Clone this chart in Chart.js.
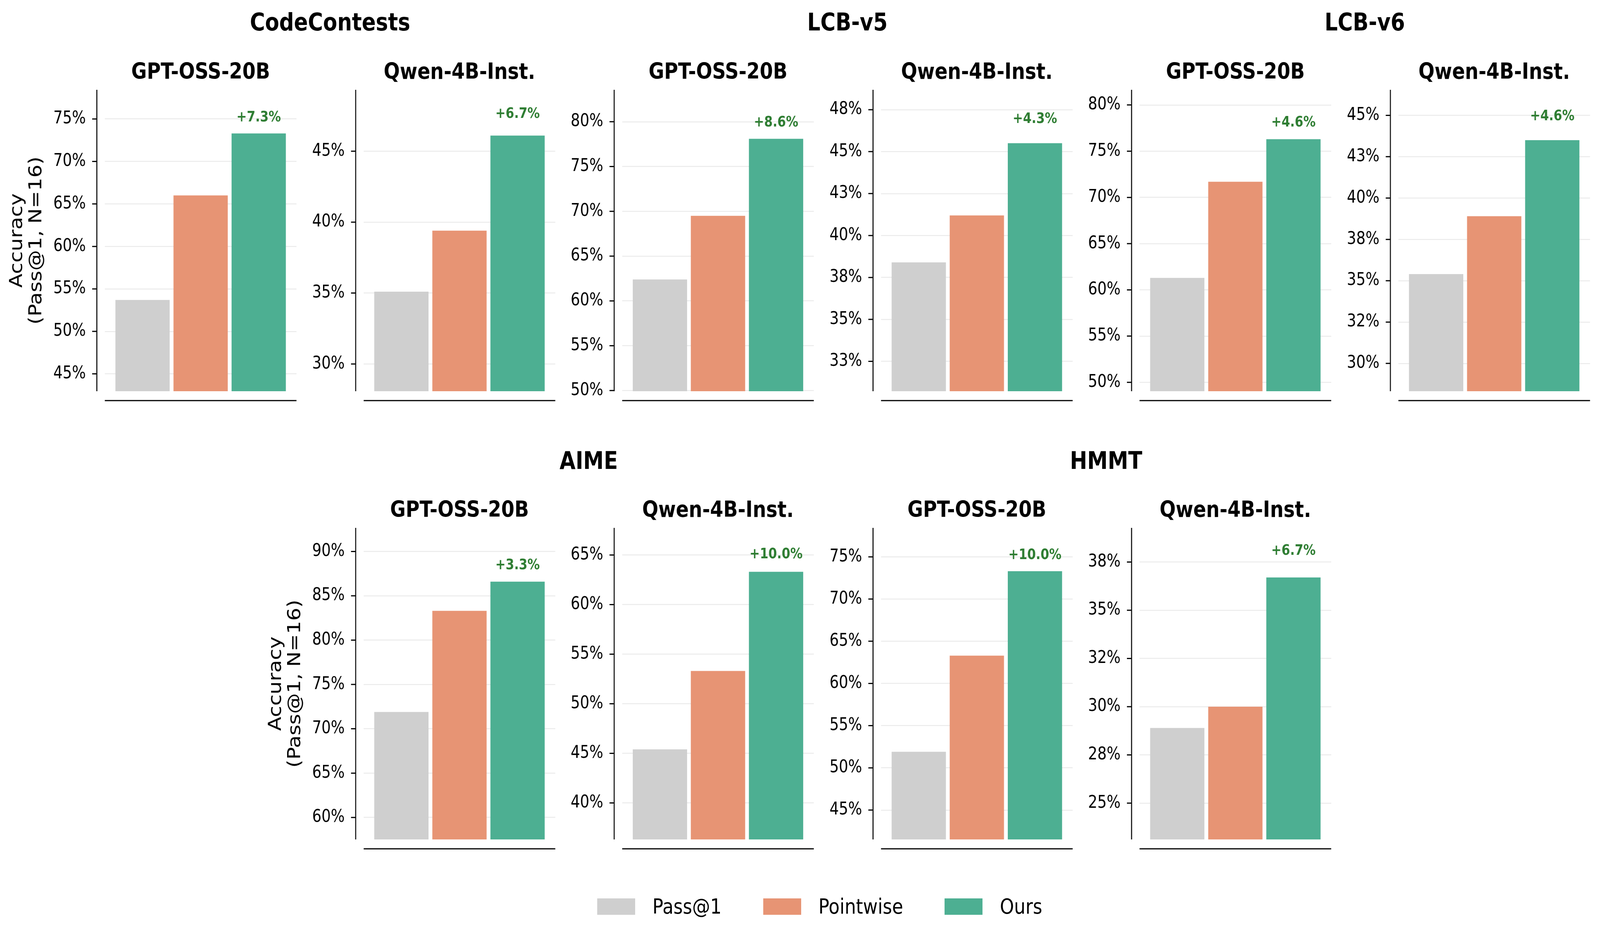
<!DOCTYPE html>
<html>
<head>
<meta charset="utf-8">
<script src="https://cdn.jsdelivr.net/npm/chart.js@4.4.1/dist/chart.umd.min.js"></script>
<style>
  html, body { margin: 0; background: #fff; overflow: hidden; }
  #page { position: absolute; left: 0; top: 0; width: 4809px; height: 2405px; overflow: hidden; font-family: "DejaVu Sans"; transform-origin: 0 0; }
  #page canvas { position: absolute; }
  .group { position: absolute; width: 1000px; text-align: center; font-weight: bold; font-size: 62px; line-height: 62px; color: #000; }
  #legend { position: absolute; left: 1795px; top: 2292px; height: 60px; display: flex; align-items: center; font-size: 54px; line-height: 60px; color: #000; white-space: nowrap; }
  .item { display: flex; align-items: center; margin-right: 125px; }
  .item:last-child { margin-right: 0; }
  .box { width: 114px; height: 42px; margin-right: 52px; }
</style>
</head>
<body>
<div id="page">
  <div id="legend"></div>
</div>
<script>
"use strict"

// what is compared
const benchmarks = ["CodeContests", "LCB-v5", "LCB-v6", "AIME", "HMMT"];
const models = ["GPT-OSS-20B", "Qwen-4B-Inst."];
const methods = ["Pass@1", "Pointwise", "Ours"];
const methodColors = ["#cfcfcf", "#e79474", "#4daf92"];

// accuracy in %, order: Pass@1, Pointwise, Ours
const codeContestsGpt = [53.7, 66.0, 73.3];
const codeContestsQwen = [35.1, 39.4, 46.1];
const lcbV5Gpt = [62.4, 69.5, 78.1];
const lcbV5Qwen = [38.4, 41.2, 45.5];
const lcbV6Gpt = [61.3, 71.7, 76.3];
const lcbV6Qwen = [35.4, 38.9, 43.5];
const aimeGpt = [71.9, 83.3, 86.6];
const aimeQwen = [45.4, 53.3, 63.3];
const hmmtGpt = [51.9, 63.3, 73.3];
const hmmtQwen = [28.9, 30.0, 36.7];

// y ticks and their labels for each panel
const codeContestsGptTicks = [45, 50, 55, 60, 65, 70, 75];
const codeContestsGptLabels = ["45%", "50%", "55%", "60%", "65%", "70%", "75%"];
const codeContestsQwenTicks = [30, 35, 40, 45];
const codeContestsQwenLabels = ["30%", "35%", "40%", "45%"];
const lcbV5GptTicks = [50, 55, 60, 65, 70, 75, 80];
const lcbV5GptLabels = ["50%", "55%", "60%", "65%", "70%", "75%", "80%"];
const lcbV5QwenTicks = [32.5, 35, 37.5, 40, 42.5, 45, 47.5];
const lcbV5QwenLabels = ["33%", "35%", "38%", "40%", "43%", "45%", "48%"];
const lcbV6GptTicks = [50, 55, 60, 65, 70, 75, 80];
const lcbV6GptLabels = ["50%", "55%", "60%", "65%", "70%", "75%", "80%"];
const lcbV6QwenTicks = [30, 32.5, 35, 37.5, 40, 42.5, 45];
const lcbV6QwenLabels = ["30%", "32%", "35%", "38%", "40%", "43%", "45%"];
const aimeGptTicks = [60, 65, 70, 75, 80, 85, 90];
const aimeGptLabels = ["60%", "65%", "70%", "75%", "80%", "85%", "90%"];
const aimeQwenTicks = [40, 45, 50, 55, 60, 65];
const aimeQwenLabels = ["40%", "45%", "50%", "55%", "60%", "65%"];
const hmmtGptTicks = [45, 50, 55, 60, 65, 70, 75];
const hmmtGptLabels = ["45%", "50%", "55%", "60%", "65%", "70%", "75%"];
const hmmtQwenTicks = [25, 27.5, 30, 32.5, 35, 37.5];
const hmmtQwenLabels = ["25%", "28%", "30%", "32%", "35%", "38%"];

const yTitle = ["Accuracy", "(Pass@1, N=16)"];

// grid placement of every panel
let panels = [
  { bench: 0, model: 0, values: codeContestsGpt, ticks: codeContestsGptTicks, labels: codeContestsGptLabels, row: 0, col: 0 },
  { bench: 0, model: 1, values: codeContestsQwen, ticks: codeContestsQwenTicks, labels: codeContestsQwenLabels, row: 0, col: 1 },
  { bench: 1, model: 0, values: lcbV5Gpt, ticks: lcbV5GptTicks, labels: lcbV5GptLabels, row: 0, col: 2 },
  { bench: 1, model: 1, values: lcbV5Qwen, ticks: lcbV5QwenTicks, labels: lcbV5QwenLabels, row: 0, col: 3 },
  { bench: 2, model: 0, values: lcbV6Gpt, ticks: lcbV6GptTicks, labels: lcbV6GptLabels, row: 0, col: 4 },
  { bench: 2, model: 1, values: lcbV6Qwen, ticks: lcbV6QwenTicks, labels: lcbV6QwenLabels, row: 0, col: 5 },
  { bench: 3, model: 0, values: aimeGpt, ticks: aimeGptTicks, labels: aimeGptLabels, row: 1, col: 1 },
  { bench: 3, model: 1, values: aimeQwen, ticks: aimeQwenTicks, labels: aimeQwenLabels, row: 1, col: 2 },
  { bench: 4, model: 0, values: hmmtGpt, ticks: hmmtGptTicks, labels: hmmtGptLabels, row: 1, col: 3 },
  { bench: 4, model: 1, values: hmmtQwen, ticks: hmmtQwenTicks, labels: hmmtQwenLabels, row: 1, col: 4 }
];

// layout in figure pixels
const figW = 4809, figH = 2405;
const colLeft = [315, 1093, 1870, 2648, 3425, 4203];
const plotW = 576;
const rowTop = [230, 1352];
const rowH = [772, 798];
const groupTop = [26, 1149];

Chart.defaults.font.family = "'DejaVu Sans'";
Chart.defaults.color = "#000";

let page = document.getElementById("page");

// the viewport can be narrower than the figure, so stretch the figure over it
let vw = document.documentElement.clientWidth || window.innerWidth;
let vh = document.documentElement.clientHeight || window.innerHeight;
page.style.transform = "scale(" + (vw / figW) + "," + (vh / figH) + ")";

// offset spines, tick marks and the gain label over "Ours"
const spinePlugin = {
  id: "spines",
  afterDraw(chart) {
    const ctx = chart.ctx;
    const a = chart.chartArea;
    const y = chart.scales.y;
    const x = chart.scales.x;
    const sx = a.left - 24;
    ctx.save();
    ctx.strokeStyle = "#000";
    ctx.lineWidth = 3;
    ctx.beginPath();
    ctx.moveTo(sx, a.top);
    ctx.lineTo(sx, a.bottom);
    y.ticks.forEach(t => {
      let py = y.getPixelForValue(t.value);
      ctx.moveTo(sx - 14, py);
      ctx.lineTo(sx, py);
    });
    ctx.moveTo(a.left, a.bottom + 24);
    ctx.lineTo(a.right, a.bottom + 24);
    ctx.stroke();

    let d = chart.data.datasets[0].data;
    let gain = "+" + (d[2].y - d[1].y).toFixed(1) + "%";
    ctx.fillStyle = "#2e7d32";
    ctx.font = "bold 37px 'DejaVu Sans'";
    ctx.textAlign = "center";
    ctx.textBaseline = "bottom";
    ctx.fillText(gain, x.getPixelForValue(2), y.getPixelForValue(d[2].y + 1));
    ctx.restore();
  }
};

function makePanel(p) {
  let canvas = document.createElement("canvas");
  let w = 300 + plotW + 10;
  let h = 130 + rowH[p.row] + 40;
  canvas.width = w;
  canvas.height = h;
  canvas.style.left = (colLeft[p.col] - 300) + "px";
  canvas.style.top = (rowTop[p.row] - 130) + "px";
  page.appendChild(canvas);

  let showTitle = (p.row === 0 && p.col === 0) || (p.row === 1 && p.col === 1);

  new Chart(canvas, {
    type: "bar",
    data: {
      datasets: [{
        data: p.values.map((v, i) => ({ x: i, y: v })),
        backgroundColor: methodColors,
        borderWidth: 0,
        barPercentage: 0.935,
        categoryPercentage: 1
      }]
    },
    options: {
      responsive: false,
      animation: false,
      layout: { padding: { left: 0, right: 10, top: 0, bottom: 40 } },
      plugins: {
        legend: { display: false },
        tooltip: { enabled: false },
        title: {
          display: true,
          fullSize: false,
          text: models[p.model],
          color: "#000",
          font: { size: 57, weight: "bold", lineHeight: 1.2 },
          padding: { top: 53, bottom: 8.6 }
        }
      },
      scales: {
        x: {
          type: "linear", min: -0.65, max: 2.65, offset: false, display: false,
          afterBuildTicks: ax => { ax.ticks = [0, 1, 2].map(v => ({ value: v })); }
        },
        y: {
          min: Math.min(...p.values) * 0.8,
          max: Math.max(...p.values) * 1.07,
          afterBuildTicks: ax => { ax.ticks = p.ticks.map(v => ({ value: v })); },
          afterFit: ax => { ax.width = 300; },
          ticks: {
            autoSkip: false,
            padding: 0,
            color: "#000",
            font: { size: 44 },
            callback: (v, i) => p.labels[i]
          },
          grid: { color: "#ebebeb", lineWidth: 2.5, drawTicks: true, tickLength: 57, tickColor: "rgba(0,0,0,0)" },
          border: { display: false },
          title: {
            display: showTitle,
            text: yTitle,
            color: "#000",
            font: { size: 53, lineHeight: 1.1 },
            padding: { top: 8, bottom: 0 }
          }
        }
      }
    },
    plugins: [spinePlugin]
  });
}

panels.forEach(makePanel);

// benchmark titles over each pair of panels
benchmarks.forEach((b, bi) => {
  let pair = panels.filter(p => p.bench === bi);
  let cx = (colLeft[pair[0].col] + colLeft[pair[1].col]) / 2 + plotW / 2;
  let div = document.createElement("div");
  div.className = "group";
  div.textContent = b;
  div.style.left = (cx - 500) + "px";
  div.style.top = groupTop[pair[0].row] + "px";
  page.appendChild(div);
});

// shared legend
let legend = document.getElementById("legend");
methods.forEach((m, i) => {
  let item = document.createElement("div");
  item.className = "item";
  let box = document.createElement("div");
  box.className = "box";
  box.style.background = methodColors[i];
  let label = document.createElement("span");
  label.textContent = m;
  item.appendChild(box);
  item.appendChild(label);
  legend.appendChild(item);
});
</script>
</body>
</html>
